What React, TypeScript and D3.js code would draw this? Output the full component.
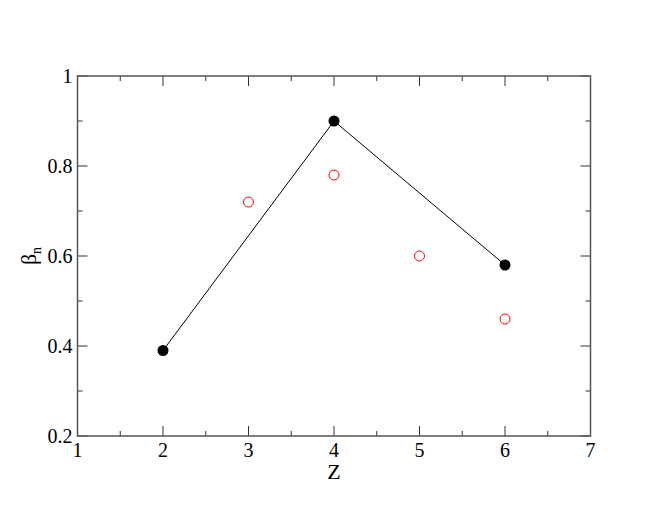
import React, { useEffect, useRef } from 'react';
import * as d3 from 'd3';

const blackZ = [2, 4, 6];
const blackBeta = [0.39, 0.9, 0.58];
const redZ = [3, 4, 5, 6];
const redBeta = [0.72, 0.78, 0.6, 0.46];
const xTicks = [1, 2, 3, 4, 5, 6, 7];
const yTicks = [0.2, 0.4, 0.6, 0.8, 1];

const W = 664;
const H = 513;
const margin = { left: 77.5, right: 73.5, top: 76, bottom: 77 };

export default function App() {
	const ref = useRef<SVGSVGElement>(null);

	useEffect(() => {
		const svg = d3.select(ref.current).style('font-family', '"Liberation Serif", serif');
		svg.selectAll('*').remove();

		const x = d3.scaleLinear().domain([1, 7]).range([margin.left, W - margin.right]);
		const y = d3.scaleLinear().domain([0.2, 1]).range([H - margin.bottom, margin.top]);
		const g = svg.append('g');

		// minor + major ticks on all four sides, pointing inward
		const xMinor = d3.range(1.5, 7, 1);
		const yMinor = d3.range(0.3, 1, 0.2);
		const tickColor = '#333';
		const addTicks = (vals: number[], len: number) => {
			vals.forEach(v => {
				g.append('line').attr('x1', x(v)).attr('x2', x(v)).attr('y1', y(0.2)).attr('y2', y(0.2) - len).attr('stroke', tickColor);
				g.append('line').attr('x1', x(v)).attr('x2', x(v)).attr('y1', y(1)).attr('y2', y(1) + len).attr('stroke', tickColor);
			});
		};
		const addYTicks = (vals: number[], len: number) => {
			vals.forEach(v => {
				g.append('line').attr('y1', y(v)).attr('y2', y(v)).attr('x1', x(1)).attr('x2', x(1) + len).attr('stroke', tickColor);
				g.append('line').attr('y1', y(v)).attr('y2', y(v)).attr('x1', x(7)).attr('x2', x(7) - len).attr('stroke', tickColor);
			});
		};
		addTicks(xTicks, 10);
		addTicks(xMinor, 5);
		addYTicks(yTicks, 10);
		addYTicks(yMinor, 5);

		g.append('rect')
			.attr('x', x(1))
			.attr('y', y(1))
			.attr('width', x(7) - x(1))
			.attr('height', y(0.2) - y(1))
			.attr('fill', 'none')
			.attr('stroke', '#555')
			.attr('stroke-width', 1.5);

		// tick labels
		g.selectAll('.xl')
			.data(xTicks)
			.enter()
			.append('text')
			.attr('x', d => x(d))
			.attr('y', y(0.2) + 21)
			.attr('text-anchor', 'middle')
			.attr('font-size', 20)
			.text(d => d);
		g.selectAll('.yl')
			.data(yTicks)
			.enter()
			.append('text')
			.attr('x', x(1) - 5)
			.attr('y', d => y(d) + 7)
			.attr('text-anchor', 'end')
			.attr('font-size', 20)
			.text(d => d);

		// axis titles
		g.append('text')
			.attr('x', (x(1) + x(7)) / 2)
			.attr('y', y(0.2) + 43)
			.attr('text-anchor', 'middle')
			.attr('font-size', 22)
			.text('Z');
		const yl = g.append('text')
			.attr('transform', `translate(${x(1) - 42},${(y(0.2) + y(1)) / 2}) rotate(-90)`)
			.attr('text-anchor', 'middle')
			.attr('font-size', 22);
		yl.append('tspan').text('β');
		yl.append('tspan').attr('font-size', 14).attr('dy', 5).text('n');

		// black series
		const black = blackZ.map((z, i) => [z, blackBeta[i]] as [number, number]);
		const line = d3.line<[number, number]>().x(d => x(d[0])).y(d => y(d[1]));
		g.append('path').attr('d', line(black)).attr('fill', 'none').attr('stroke', 'black').attr('stroke-width', 1);
		g.selectAll('.bk')
			.data(black)
			.enter()
			.append('circle')
			.attr('cx', d => x(d[0]))
			.attr('cy', d => y(d[1]))
			.attr('r', 5.5)
			.attr('fill', 'black');

		// red series
		g.selectAll('.rd')
			.data(redZ.map((z, i) => [z, redBeta[i]]))
			.enter()
			.append('circle')
			.attr('cx', d => x(d[0]))
			.attr('cy', d => y(d[1]))
			.attr('r', 5)
			.attr('fill', 'none')
			.attr('stroke', 'red')
			.attr('stroke-width', 1);
	}, []);

	return <svg ref={ref} width={W} height={H} style={{ position: 'absolute', left: 0, top: 0 }} />;
}
